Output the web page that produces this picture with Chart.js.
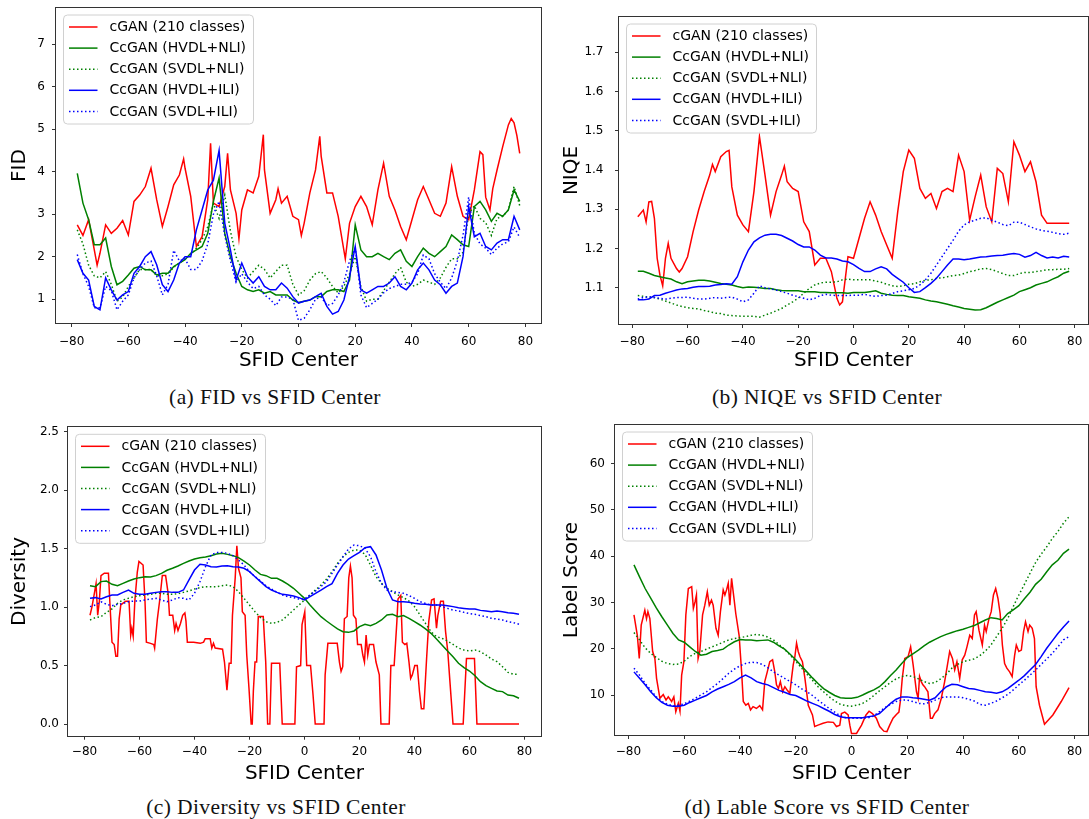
<!DOCTYPE html>
<html>
<head>
<meta charset="utf-8">
<title>cGAN vs CcGAN metrics over SFID centers</title>
<script src="https://cdn.jsdelivr.net/npm/chart.js@4.4.1/dist/chart.umd.min.js"></script>
<style>
  html, body { margin: 0; padding: 0; background: #fff; }
  body { position: relative; width: 1089px; height: 819px; overflow: hidden; }
  .panel { position: absolute; }
  .panel canvas { display: block; }
  .caption { position: absolute; transform: translateX(-50%); white-space: nowrap;
    font-family: "Liberation Serif", "Times New Roman", serif; font-size: 21.5px; letter-spacing: 0.4px;
    line-height: 26px; color: #111; }
</style>
</head>
<body>
<div class="panel" style="left:0;top:0;width:545px;height:380px"><canvas id="fid" width="545" height="380"></canvas></div>
<div class="panel" style="left:545px;top:0;width:544px;height:380px"><canvas id="niqe" width="544" height="380"></canvas></div>
<div class="panel" style="left:0;top:410px;width:545px;height:380px"><canvas id="diversity" width="545" height="380"></canvas></div>
<div class="panel" style="left:545px;top:410px;width:544px;height:380px"><canvas id="labelscore" width="544" height="380"></canvas></div>
<div class="caption" style="left:275px;top:384px">(a) FID vs SFID Center</div>
<div class="caption" style="left:827px;top:384px">(b) NIQE vs SFID Center</div>
<div class="caption" style="left:276px;top:794px">(c) Diversity vs SFID Center</div>
<div class="caption" style="left:827px;top:794px">(d) Lable Score vs SFID Center</div>

<script>
// ---- shared x positions (SFID centers, step 2) and tick values ----
const sfidGrid = [-78,-76,-74,-72,-70,-68,-66,-64,-62,-60,-58,-56,-54,-52,-50,-48,-46,-44,-42,-40,
  -38,-36,-34,-32,-30,-28,-26,-24,-22,-20,-18,-16,-14,-12,-10,-8,-6,-4,-2,0,
  2,4,6,8,10,12,14,16,18,20,22,24,26,28,30,32,34,36,38,40,
  42,44,46,48,50,52,54,56,58,60,62,64,66,68,70,72,74,76,78];
const sfidTicks = [-80,-60,-40,-20,0,20,40,60,80];
const fidTicks = [1,2,3,4,5,6,7];
const niqeTicks = [1.1,1.2,1.3,1.4,1.5,1.6,1.7];
const diversityTicks = [0,0.5,1,1.5,2,2.5];
const labelScoreTicks = [10,20,30,40,50,60];

const seriesLabels = ['cGAN (210 classes)','CcGAN (HVDL+NLI)','CcGAN (SVDL+NLI)','CcGAN (HVDL+ILI)','CcGAN (SVDL+ILI)'];

// ---- (a) FID ----
const fidCganX = [-78,-76,-74,-72,-71,-70,-68,-66,-64,-62,-60,-58,-56,-54,-52,-50,-48,-46,-44,-42,
  -40.5,-40,-38,-36,-34,-32,-31,-30,-28,-26,-25,-24,-22,-21,-20,-18,-16,-14,-12.4,-12,
  -10,-8,-7.2,-6,-4,-2,0,1,2,4,6,7.5,8,10,12,14,16.5,18,20,22,
  24,26,28,30,32,34,36,38,40,42,44,46,48,50,52,54,56,58,60,62,
  64,65,66,67.5,68.5,70,72,74,75,76,77,78];
const fidCgan = [2.75,2.5,2.87,2.16,1.8,2.08,2.75,2.55,2.67,2.85,2.51,3.3,3.45,3.65,4.08,3.34,2.71,3.18,3.69,3.92,
  4.3,4.08,3.42,2.24,2.47,3.34,4.67,3.26,3.18,3.65,4.43,3.57,3.02,2.42,3.1,3.57,3.5,3.89,4.87,4.04,
  3.02,3.34,3.6,3.26,3.42,2.95,2.87,2.5,2.79,3.5,4.04,4.83,4.36,3.5,3.5,2.95,1.95,2.79,3.18,3.42,
  3.18,2.75,3.57,4.2,3.42,3.1,2.71,2.4,2.87,3.34,3.65,3.34,3.02,2.95,3.26,4.12,3.42,2.95,2.87,3.57,
  4.47,4.4,3.4,3.1,3.6,4.04,4.59,5.1,5.25,5.15,4.85,4.43];
const fidHvdlNli = [3.96,3.26,2.87,2.28,2.28,2.44,1.77,1.34,1.42,1.57,
  1.73,1.77,1.69,1.69,1.57,1.61,1.61,1.77,1.85,1.93,
  2.08,2.16,2.24,2.55,3.3,3.85,2.55,2.0,1.61,1.3,
  1.22,1.18,1.22,1.14,1.18,1.1,1.1,1.1,0.98,0.92,
  0.95,0.98,1.06,1.06,1.18,1.22,1.22,1.18,1.45,2.75,
  2.16,2.0,2.0,2.08,2.0,1.93,2.08,2.16,1.89,1.77,
  2.0,2.2,2.08,2.0,2.12,2.24,2.51,2.4,2.28,2.24,
  3.18,3.3,3.1,2.83,3.02,2.95,3.1,3.57,3.3];
const fidSvdlNli = [2.63,2.3,1.8,1.55,1.5,1.65,1.35,0.95,1.05,1.3,
  1.5,1.7,1.7,1.7,1.55,1.55,1.6,1.75,1.85,1.95,
  2.05,2.2,2.4,2.7,3.25,2.9,3.45,2.6,2.0,1.7,
  1.5,1.65,1.8,1.7,1.5,1.65,1.8,1.8,1.35,1.1,
  1.2,1.45,1.6,1.65,1.5,1.3,1.15,1.3,1.6,2.0,
  1.3,0.95,1.0,1.0,1.2,1.4,1.6,1.75,1.4,1.3,
  1.35,1.45,1.4,1.35,1.5,1.75,1.95,1.95,2.1,3.0,
  3.2,2.9,2.8,2.5,2.9,2.95,3.1,3.65,3.2];
const fidHvdlIli = [1.93,1.61,1.45,0.83,0.75,1.5,1.22,0.98,1.1,1.18,
  1.61,1.77,2.0,2.12,1.81,1.34,1.18,1.45,1.85,2.0,
  2.0,2.63,3.1,3.57,3.8,4.5,2.79,2.16,1.45,1.85,
  1.53,1.38,1.53,1.3,1.22,1.22,1.38,1.26,1.06,0.91,
  0.95,0.98,1.06,1.14,0.83,0.65,0.71,0.98,1.53,2.24,
  1.22,1.14,1.22,1.3,1.3,1.38,1.53,1.3,1.22,1.38,
  1.69,1.85,1.69,1.45,1.34,1.14,1.3,1.38,2.0,3.18,
  2.47,2.55,2.24,2.16,2.32,2.4,2.4,2.95,2.63];
const fidSvdlIli = [2.05,1.6,1.3,0.8,0.8,1.3,1.2,0.75,0.95,1.1,
  1.5,1.7,1.85,1.9,1.55,1.1,1.35,2.15,1.9,1.95,
  1.7,1.7,1.9,2.3,3.0,3.3,2.5,1.9,1.4,1.6,
  1.4,1.25,1.3,1.1,1.0,0.85,1.05,1.05,1.0,0.5,
  0.55,0.75,1.0,1.05,0.85,0.9,1.1,1.4,1.9,2.2,
  1.1,0.8,0.9,1.0,1.15,1.25,1.3,1.35,1.35,1.4,
  1.6,2.04,1.95,1.6,1.4,1.25,1.5,1.9,2.5,3.4,
  2.55,2.3,2.2,2.05,2.2,2.3,2.35,2.7,2.45];

// ---- (b) NIQE ----
const niqeCganX = [-78,-76,-75,-74,-73,-72,-71,-70,-69,-68,-67,-66,-64,-63,-62,-60,-58,-56,-54,-52,
  -51,-50,-48,-46,-45,-44,-42,-40,-38,-36,-34,-32,-30,-28,-26,-25,-24,-22,-20,-18,
  -16,-14,-12,-10,-8,-6,-5,-4,-2,0,2,4,6,8,10,12,14,16,18,20,
  22,24,26,28,30,32,34,36,38,40,42,44,46,48,50,52,54,56,58,60,
  62,64,66,68,70,78];
const niqeCgan = [1.281,1.298,1.268,1.319,1.32,1.277,1.175,1.132,1.105,1.175,1.213,1.175,1.149,1.14,1.149,1.179,1.243,1.298,1.345,1.387,
  1.414,1.396,1.434,1.447,1.45,1.357,1.285,1.26,1.243,1.345,1.485,1.387,1.285,1.345,1.387,1.41,1.37,1.353,1.345,1.268,
  1.243,1.158,1.175,1.175,1.141,1.073,1.056,1.064,1.179,1.175,1.226,1.277,1.319,1.285,1.243,1.209,1.175,1.294,1.396,1.451,
  1.43,1.353,1.328,1.34,1.302,1.345,1.353,1.345,1.438,1.396,1.272,1.332,1.387,1.306,1.268,1.404,1.391,1.319,1.472,1.438,
  1.396,1.421,1.37,1.285,1.264,1.264];
const niqeHvdlNli = [1.142,1.142,1.137,1.131,1.128,1.125,1.122,1.115,1.11,1.115,
  1.117,1.119,1.119,1.117,1.114,1.111,1.109,1.107,1.103,1.1,
  1.102,1.101,1.1,1.098,1.098,1.095,1.093,1.092,1.092,1.092,
  1.09,1.09,1.09,1.088,1.088,1.087,1.087,1.087,1.086,1.088,
  1.088,1.088,1.09,1.092,1.086,1.083,1.081,1.08,1.08,1.077,
  1.075,1.073,1.069,1.066,1.064,1.061,1.058,1.054,1.051,1.047,
  1.045,1.043,1.044,1.049,1.056,1.063,1.069,1.075,1.081,1.09,
  1.095,1.1,1.107,1.111,1.115,1.122,1.128,1.137,1.142];
const niqeSvdlNli = [1.08,1.078,1.076,1.075,1.071,1.066,1.061,1.056,1.052,1.049,
  1.047,1.046,1.042,1.039,1.035,1.034,1.03,1.029,1.028,1.027,
  1.027,1.027,1.025,1.03,1.035,1.041,1.047,1.056,1.064,1.073,
  1.086,1.098,1.107,1.112,1.114,1.114,1.115,1.12,1.122,1.12,
  1.12,1.12,1.12,1.117,1.114,1.109,1.105,1.103,1.105,1.109,
  1.11,1.115,1.119,1.12,1.124,1.125,1.128,1.131,1.132,1.136,
  1.141,1.144,1.148,1.149,1.146,1.141,1.136,1.131,1.131,1.136,
  1.139,1.139,1.141,1.143,1.146,1.146,1.147,1.147,1.149];
const niqeHvdlIli = [1.069,1.069,1.071,1.08,1.081,1.086,1.09,1.094,1.097,1.098,
  1.101,1.103,1.103,1.104,1.107,1.108,1.11,1.109,1.128,1.166,
  1.196,1.217,1.227,1.234,1.236,1.236,1.233,1.226,1.219,1.21,
  1.204,1.204,1.196,1.183,1.176,1.176,1.173,1.168,1.166,1.159,
  1.149,1.141,1.141,1.148,1.153,1.148,1.134,1.124,1.114,1.1,
  1.088,1.09,1.1,1.111,1.124,1.141,1.158,1.173,1.173,1.171,
  1.173,1.176,1.178,1.179,1.181,1.182,1.183,1.185,1.187,1.185,
  1.178,1.182,1.19,1.182,1.176,1.178,1.176,1.18,1.178];
const niqeSvdlIli = [1.071,1.075,1.077,1.075,1.073,1.071,1.073,1.075,1.075,1.076,
  1.073,1.071,1.071,1.073,1.075,1.073,1.075,1.076,1.071,1.064,
  1.069,1.086,1.105,1.1,1.097,1.094,1.09,1.086,1.081,1.077,
  1.073,1.069,1.073,1.08,1.083,1.081,1.08,1.08,1.08,1.081,
  1.081,1.083,1.08,1.078,1.08,1.081,1.085,1.09,1.092,1.095,
  1.098,1.107,1.12,1.137,1.158,1.179,1.2,1.221,1.244,1.26,
  1.268,1.272,1.277,1.278,1.272,1.267,1.261,1.258,1.267,1.267,
  1.261,1.255,1.25,1.246,1.244,1.241,1.238,1.236,1.239];

// ---- (c) Diversity ----
const diversityCganX = [-78,-77.3,-76.4,-75.8,-75.2,-74.6,-74.0,-72.8,-71.3,-70.8,
  -70.0,-69.2,-68.6,-68.0,-67.4,-66.8,-65.0,-63.8,-63.2,-62.8,
  -62.3,-61.7,-60.8,-60.2,-58.7,-58.0,-57.5,-56.0,-54.8,-54.5,
  -53.5,-52.7,-51.7,-50.5,-49.6,-49.1,-47.9,-47.2,-46.7,-46.0,
  -45.1,-44.3,-43.5,-43.1,-42.6,-40.3,-37.9,-36.7,-36.1,-34.3,
  -33.7,-33.1,-32.5,-29.8,-29.1,-28.2,-27.4,-26.7,-26.2,-25.2,
  -24.6,-24.0,-23.1,-22.6,-21.6,-21.0,-20.2,-19.4,-19.0,-18.6,
  -18.0,-17.4,-16.8,-15.0,-14.1,-13.4,-12.6,-12.0,-9.0,-8.1,
  -3.5,-2.9,-1.4,-0.9,0.1,0.8,2.2,3.1,3.9,7.1,
  7.5,8.5,11.9,12.7,13.3,13.9,14.5,15.5,16.1,16.7,
  17.3,17.8,18.7,19.3,20.6,21.2,21.8,22.4,23.0,23.6,
  25.1,26.0,27.2,27.8,30.8,31.4,32.6,33.6,34.0,35.0,
  35.6,36.5,37.2,38.0,38.6,39.2,40.1,41.0,41.8,42.5,
  43.4,44.4,45.2,46.2,47.1,48.0,48.5,49.5,50.5,51.3,
  52.1,52.8,54.0,57.7,58.9,61.8,62.7,78];
const diversityCgan = [0.93,1.0,1.12,1.2,0.93,1.05,1.27,1.29,1.29,1.05,
  0.70,0.68,0.58,0.58,0.9,1.02,1.05,1.05,0.76,0.82,
  0.75,1.05,1.3,1.39,1.36,1.05,0.70,0.69,0.68,0.65,
  0.9,1.05,1.27,1.27,1.12,0.93,0.93,0.80,0.86,0.80,
  0.86,0.93,0.95,0.88,0.70,0.70,0.69,0.70,0.73,0.73,
  0.65,0.69,0.65,0.64,0.53,0.29,0.52,0.52,0.93,1.25,
  1.525,1.33,1.25,0.96,0.93,0.59,0.31,0,0,0.28,
  0.53,0.53,0.92,0.92,0.53,0,0,0.52,0.52,0,
  0,0.49,0.5,0.85,0.96,0.5,0.5,0.25,0,0,
  0.42,0.69,0.69,0.53,0.45,0.49,0.9,0.92,1.25,1.35,
  1.25,0.93,0.9,0.68,0.68,0.59,0.53,0.76,0.59,0.68,
  0.68,0.53,0.42,0,0,0.5,0.5,0.88,1.07,1.10,
  0.70,0.68,0.69,0.53,0.39,0.42,0.5,0.5,0.28,0.13,
  0.13,0.56,0.88,1.06,1.07,0.82,0.93,1.05,1.05,0.79,
  0.62,0.39,0,0,0.56,0.56,0,0];
const diversityHvdlNli = [1.183,1.175,1.218,1.223,1.195,1.183,1.203,1.223,1.24,1.252,
  1.26,1.258,1.269,1.289,1.315,1.332,1.352,1.374,1.394,1.411,
  1.423,1.429,1.44,1.454,1.46,1.451,1.44,1.423,1.394,1.36,
  1.317,1.28,1.269,1.246,1.246,1.223,1.195,1.161,1.118,1.075,
  1.018,0.967,0.918,0.881,0.847,0.813,0.79,0.784,0.796,0.833,
  0.853,0.841,0.861,0.89,0.932,0.938,0.918,0.927,0.904,0.875,
  0.847,0.813,0.776,0.727,0.676,0.624,0.576,0.519,0.482,0.453,
  0.413,0.362,0.328,0.305,0.282,0.277,0.248,0.242,0.22];
const diversitySvdlNli = [0.89,0.91,0.918,0.955,0.984,1.032,1.061,1.075,1.089,1.098,
  1.104,1.109,1.118,1.118,1.109,1.109,1.115,1.126,1.138,1.155,
  1.166,1.175,1.175,1.175,1.183,1.189,1.175,1.132,1.075,1.018,
  0.961,0.91,0.875,0.861,0.87,0.89,0.932,0.975,1.018,1.061,
  1.104,1.146,1.189,1.24,1.303,1.374,1.431,1.468,1.488,1.488,
  1.451,1.36,1.26,1.203,1.161,1.132,1.104,1.081,1.052,1.004,
  0.932,0.861,0.79,0.747,0.733,0.71,0.681,0.65,0.633,0.624,
  0.633,0.619,0.59,0.556,0.533,0.49,0.442,0.425,0.425];
const diversityHvdlIli = [1.075,1.081,1.069,1.089,1.104,1.104,1.126,1.146,1.118,1.109,
  1.109,1.118,1.126,1.132,1.132,1.126,1.126,1.146,1.232,1.317,
  1.366,1.36,1.346,1.343,1.352,1.354,1.346,1.343,1.332,1.303,
  1.26,1.218,1.175,1.146,1.126,1.109,1.104,1.095,1.081,1.061,
  1.089,1.118,1.146,1.175,1.2,1.289,1.36,1.411,1.44,1.468,
  1.508,1.517,1.446,1.317,1.16,1.061,1.046,1.046,1.041,1.032,
  1.027,1.024,1.018,1.018,1.018,1.012,1.004,0.995,0.989,0.984,
  0.984,0.972,0.967,0.961,0.967,0.961,0.952,0.947,0.938];
const diversitySvdlIli = [1.004,1.018,1.046,1.024,1.012,1.024,1.032,1.046,1.052,1.052,
  1.061,1.069,1.075,1.061,1.046,1.061,1.081,1.075,1.061,1.118,
  1.218,1.346,1.446,1.466,1.468,1.46,1.44,1.403,1.36,1.303,
  1.26,1.223,1.183,1.155,1.126,1.104,1.089,1.081,1.069,1.069,
  1.104,1.138,1.175,1.218,1.289,1.36,1.431,1.497,1.531,1.525,
  1.503,1.431,1.303,1.203,1.146,1.132,1.126,1.118,1.098,1.075,
  1.046,1.032,1.018,1.018,1.004,0.989,0.975,0.967,0.955,0.944,
  0.938,0.927,0.918,0.904,0.898,0.89,0.875,0.867,0.853];

// ---- (d) Label score ----
const labelScoreCganX = [-78,-76.8,-76.1,-75.4,-74.1,-73.5,-73.0,-72.3,-71.3,-70.5,
  -69.9,-68.7,-67.5,-66.5,-65.7,-64.5,-63.7,-63.0,-62.1,-61.5,
  -60.9,-60.1,-59.4,-58.5,-57.3,-56.7,-56.1,-55.6,-55.0,-54.4,
  -53.4,-52.6,-51.7,-51.0,-50.2,-49.6,-48.6,-47.8,-47.0,-46.0,
  -45.4,-44.8,-44.2,-43.6,-43.0,-42.2,-41.5,-40.3,-39.4,-38.8,
  -37.9,-37.0,-36.2,-35.3,-34.1,-32.9,-31.9,-31.1,-30.2,-29.3,
  -28.3,-27.5,-26.9,-26.2,-25.5,-24.7,-23.9,-23.1,-22.1,-21.5,
  -20.9,-20.3,-19.7,-19.1,-18.5,-17.6,-16.7,-15.5,-14.0,-13.2,
  -12.0,-10.2,-8.4,-6.5,-5.4,-4.2,-3.6,-2.4,-1.2,-0.6,
  0.0,1.8,3.6,5.2,6.3,7.5,8.9,10.1,11.6,12.7,
  13.7,14.9,16.1,17.0,17.5,18.2,19.1,20.3,21.2,22.1,
  23.3,23.9,24.4,25.0,25.6,26.2,27.4,28.3,29.0,29.8,
  31.0,32.2,33.4,34.4,35.2,36.2,37.0,37.8,38.8,39.7,
  40.6,41.4,42.4,43.3,44.1,44.7,45.7,46.9,47.7,48.3,
  49.3,50.1,50.9,51.7,52.5,53.3,54.1,54.9,55.7,56.7,
  57.6,58.5,59.1,60.0,60.9,61.7,62.4,63.3,63.9,64.8,
  65.6,66.2,67.4,69.2,72.2,75.2,78.0];
const labelScoreCgan = [27.3,22.9,17.9,25.1,28.3,26.5,28.0,26.5,19.4,17.9,
  13.6,9.3,10.1,8.9,9.6,8.6,9.6,6.4,8.2,6.5,
  14.3,17.2,27.3,33.0,33.4,28.7,30.1,31.6,17.9,19.4,
  27.3,29.4,32.3,29.4,30.5,29.4,24.4,22.9,28.0,32.7,
  31.6,32.7,34.1,29.4,35.2,31.2,27.6,22.9,15.0,8.6,
  7.8,8.2,6.8,7.5,7.1,7.7,6.8,12.9,15.0,17.2,
  17.6,15.0,12.2,11.4,12.9,10.7,11.8,11.1,10.4,13.6,
  16.5,18.3,21.2,19.4,18.3,17.2,13.6,7.8,5.7,3.2,
  3.5,3.9,4.2,4.1,3.2,3.5,6.0,6.3,5.7,3.5,
  1.7,1.7,3.5,5.7,6.5,6.0,5.0,3.2,2.2,2.1,
  3.5,5.0,5.8,6.3,8.6,13.6,17.9,18.3,20.4,16.5,
  10.7,9.3,14.0,12.9,12.2,11.8,10.7,5.0,5.0,6.0,
  6.8,9.3,12.9,16.5,19.4,17.9,15.4,17.2,13.6,17.6,
  18.6,20.4,22.9,22.2,27.3,28.0,24.0,20.8,25.1,23.7,
  26.5,28.0,31.6,33.0,30.9,27.6,20.8,16.8,15.8,15.0,
  14.0,18.6,20.8,19.4,19.7,23.7,25.8,23.7,25.1,24.4,
  22.2,11.8,7.8,3.7,5.7,8.6,11.6];
const labelScoreHvdlNli = [38.1,35.5,33.0,30.9,28.8,26.9,25.1,23.3,21.9,21.4,
  20.4,19.4,18.6,18.8,19.4,19.6,19.9,20.8,21.5,22.0,
  21.9,21.9,21.7,21.8,21.9,21.4,20.6,19.9,18.8,17.6,
  16.3,15.0,13.7,12.5,11.4,10.6,9.9,9.4,9.3,9.3,
  9.5,10.0,10.6,11.1,11.8,12.9,14.2,15.4,16.8,18.1,
  18.9,19.7,20.6,21.4,22.0,22.6,23.1,23.5,23.9,24.2,
  24.6,25.0,25.6,26.2,26.7,26.5,26.2,27.6,28.4,29.3,
  30.8,32.2,33.9,35.0,36.6,38.1,39.1,40.6,41.5];
const labelScoreSvdlNli = [23.5,21.9,20.2,19.0,18.1,17.3,16.8,16.6,16.7,17.3,
  18.3,19.0,19.4,19.9,20.4,20.9,21.4,21.9,22.2,22.4,
  22.6,22.9,23.1,22.9,22.5,21.9,20.9,19.9,18.6,17.3,
  15.9,14.5,13.2,11.8,10.7,9.6,8.7,8.0,7.7,7.6,
  7.8,8.2,8.9,9.9,10.9,11.8,12.7,13.5,14.0,14.2,
  14.0,13.5,12.9,12.5,12.7,13.5,14.5,15.8,16.6,17.2,
  17.5,17.8,18.5,19.5,20.8,22.6,24.4,26.5,29.1,31.6,
  33.9,36.3,38.6,40.4,42.0,43.8,45.3,47.1,48.5];
const labelScoreHvdlIli = [15.0,13.6,12.2,10.7,9.4,8.4,7.8,7.6,7.6,7.8,
  8.4,8.9,9.4,9.9,10.7,11.3,11.8,12.3,12.9,13.7,
  14.3,13.7,12.9,12.5,12.2,11.6,11.0,10.6,10.1,9.9,
  9.3,8.7,8.2,7.7,7.1,6.5,5.8,5.3,5.1,5.1,
  5.1,5.1,5.3,5.5,6.0,7.1,8.2,9.1,9.6,9.6,
  9.4,9.3,9.1,8.9,9.4,10.7,11.8,12.3,12.2,11.8,
  11.4,11.3,11.0,10.7,10.6,10.4,10.7,11.4,12.3,13.2,
  14.2,15.4,16.6,18.3,20.1,21.7,23.3,24.7,26.0];
const labelScoreSvdlIli = [15.8,14.3,12.5,11.1,9.6,8.6,8.0,7.7,7.8,8.1,
  8.7,9.3,10.0,10.7,11.6,12.5,13.6,14.7,15.6,16.3,
  16.8,17.1,17.0,16.6,15.9,15.0,14.3,13.6,12.9,12.2,
  11.4,10.7,9.9,8.9,8.0,7.1,6.3,5.5,5.1,5.0,
  5.0,5.0,5.1,5.5,6.4,7.3,8.0,8.6,8.9,8.9,
  8.6,8.2,8.1,8.4,8.9,9.4,9.6,9.6,9.6,9.4,
  9.1,8.7,8.0,7.8,8.2,8.7,9.4,10.1,11.1,12.2,
  13.2,14.3,15.4,16.6,17.8,19.0,20.4,21.9,22.6];

// ---- line styles, in legend order ----
const seriesStyles = [
  {color: '#ff0000', dash: []},
  {color: '#008000', dash: []},
  {color: '#008000', dash: [1.5, 2.5]},
  {color: '#0000ff', dash: []},
  {color: '#0000ff', dash: [1.5, 2.5]}
];

function axisLabel(v, decimals) {
  return Number(v).toFixed(decimals).replace('-', '\u2212');
}

// Draws the full axes frame and the boxed legend in the upper-left corner.
const frameAndLegend = {
  id: 'frameAndLegend',
  afterDatasetsDraw(chart) {
    const {ctx, chartArea: a} = chart;
    ctx.save();
    ctx.setLineDash([]);
    ctx.lineWidth = 1;
    ctx.strokeStyle = '#333';
    const l = Math.round(a.left) - 0.5, t = Math.round(a.top) - 0.5;
    const r = Math.round(a.right) + 0.5, b = Math.round(a.bottom) + 0.5;
    ctx.strokeRect(l, t, r - l, b - t);

    const L = a.left + 7.5, T = a.top + 7, W = 190, H = 109, R = 4;
    ctx.beginPath();
    ctx.moveTo(L + R, T);
    ctx.arcTo(L + W, T, L + W, T + H, R);
    ctx.arcTo(L + W, T + H, L, T + H, R);
    ctx.arcTo(L, T + H, L, T, R);
    ctx.arcTo(L, T, L + W, T, R);
    ctx.closePath();
    ctx.fillStyle = 'rgba(255,255,255,0.8)';
    ctx.fill();
    ctx.strokeStyle = '#d0d0d0';
    ctx.stroke();

    ctx.font = '14px "DejaVu Sans"';
    ctx.textBaseline = 'middle';
    ctx.textAlign = 'left';
    chart.data.datasets.forEach((ds, i) => {
      const y = T + 12 + i * 21.1;
      ctx.beginPath();
      ctx.setLineDash(ds.borderDash);
      ctx.lineWidth = ds.borderWidth;
      ctx.strokeStyle = ds.borderColor;
      ctx.moveTo(L + 5.5, y);
      ctx.lineTo(L + 34, y);
      ctx.stroke();
      ctx.setLineDash([]);
      ctx.fillStyle = '#000';
      ctx.fillText(ds.label, L + 46, y + 0.5);
    });
    ctx.restore();
  }
};

function buildPanel(p) {
  const datasets = p.series.map((s, i) => ({
    label: seriesLabels[i],
    data: s[0].map((x, k) => ({x: x, y: s[1][k]})),
    borderColor: seriesStyles[i].color,
    borderDash: seriesStyles[i].dash,
    borderWidth: 1.5,
    pointRadius: 0,
    fill: false,
    tension: 0,
    order: seriesStyles.length - i
  }));
  const tickFont = {family: 'DejaVu Sans', size: 12};
  const titleFont = {family: 'DejaVu Sans', size: 20};
  const grid = {drawOnChartArea: false, drawTicks: true, tickLength: 4, color: '#333', lineWidth: 1};
  new Chart(document.getElementById(p.canvas), {
    type: 'line',
    data: {datasets},
    options: {
      responsive: false,
      animation: false,
      events: [],
      layout: {autoPadding: false, padding: {left: 0, top: p.padTop, right: p.padRight, bottom: 0}},
      plugins: {legend: {display: false}, tooltip: {enabled: false}},
      scales: {
        x: {
          type: 'linear', min: p.xRange[0], max: p.xRange[1],
          afterBuildTicks: s => { s.ticks = sfidTicks.map(v => ({value: v})); },
          afterFit: s => { s.height = p.xHeight; s.paddingLeft = 0; s.paddingRight = 0; },
          ticks: {font: tickFont, color: '#000', padding: p.xTickPad, maxRotation: 0, autoSkip: false,
                  callback: v => axisLabel(v, 0)},
          grid: grid,
          border: {display: false},
          title: {display: true, text: 'SFID Center', font: titleFont, color: '#000',
                  padding: {top: 0, bottom: p.xTitlePad}}
        },
        y: {
          type: 'linear', min: p.yRange[0], max: p.yRange[1],
          afterBuildTicks: s => { s.ticks = p.yTicks.map(v => ({value: v})); },
          afterFit: s => { s.width = p.yWidth; s.paddingTop = 0; s.paddingBottom = 0; },
          ticks: {font: tickFont, color: '#000', padding: p.yTickPad, autoSkip: false,
                  callback: v => axisLabel(v, p.yDecimals)},
          grid: grid,
          border: {display: false},
          title: {display: true, text: p.yTitle, font: titleFont, color: '#000',
                  padding: {top: p.yTitlePad, bottom: 0}}
        }
      }
    },
    plugins: [frameAndLegend]
  });
}

buildPanel({
  canvas: 'fid', yTitle: 'FID', xRange: [-85.5, 85.5], yRange: [0.44, 7.85], yTicks: fidTicks, yDecimals: 0,
  padTop: 8, padRight: 4, yWidth: 56, xHeight: 57, yTitlePad: 8, xTitlePad: 7, yTickPad: 7, xTickPad: 7.5,
  series: [[fidCganX, fidCgan], [sfidGrid, fidHvdlNli], [sfidGrid, fidSvdlNli], [sfidGrid, fidHvdlIli], [sfidGrid, fidSvdlIli]]
});
buildPanel({
  canvas: 'niqe', yTitle: 'NIQE', xRange: [-84.8, 84.8], yRange: [1.0075, 1.79], yTicks: niqeTicks, yDecimals: 1,
  padTop: 17, padRight: 1, yWidth: 74, xHeight: 56, yTitlePad: 14.6, xTitlePad: 7, yTickPad: 11.5, xTickPad: 6.5,
  series: [[niqeCganX, niqeCgan], [sfidGrid, niqeHvdlNli], [sfidGrid, niqeSvdlNli], [sfidGrid, niqeHvdlIli], [sfidGrid, niqeSvdlIli]]
});
buildPanel({
  canvas: 'diversity', yTitle: 'Diversity', xRange: [-86, 86], yRange: [-0.1, 2.538], yTicks: diversityTicks, yDecimals: 1,
  padTop: 17.3, padRight: 4, yWidth: 68, xHeight: 54.3, yTitlePad: 8, xTitlePad: 4.6, yTickPad: 5, xTickPad: 4.8,
  series: [[diversityCganX, diversityCgan], [sfidGrid, diversityHvdlNli], [sfidGrid, diversitySvdlNli], [sfidGrid, diversityHvdlIli], [sfidGrid, diversitySvdlIli]]
});
buildPanel({
  canvas: 'labelscore', yTitle: 'Label Score', xRange: [-84.8, 84.8], yRange: [1.37, 68.3], yTicks: labelScoreTicks, yDecimals: 0,
  padTop: 15, padRight: 1, yWidth: 70, xHeight: 55, yTitlePad: 14.6, xTitlePad: 4.6, yTickPad: 6, xTickPad: 5.5,
  series: [[labelScoreCganX, labelScoreCgan], [sfidGrid, labelScoreHvdlNli], [sfidGrid, labelScoreSvdlNli], [sfidGrid, labelScoreHvdlIli], [sfidGrid, labelScoreSvdlIli]]
});
</script>
</body>
</html>
